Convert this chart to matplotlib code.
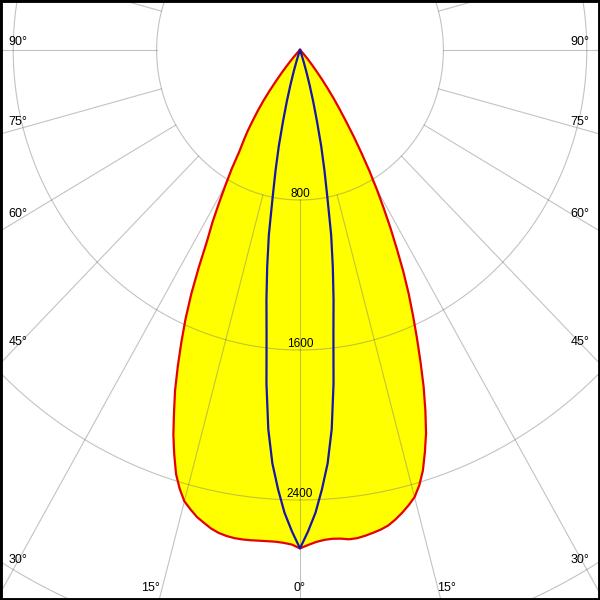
import matplotlib.pyplot as plt
import numpy as np
from matplotlib.patches import Rectangle

# gamma angles (deg) of the intensity readings
gamma = [0, 1, 2, 3, 4, 5, 6, 7, 8, 9, 10, 11, 12, 13, 14, 15, 16, 17, 18, 19,
         20, 21, 22, 23, 24, 25, 26, 27, 28, 29, 30, 31, 32, 33, 34, 35, 36, 37, 38, 39,
         40, 41, 42, 43, 44, 45, 46, 47, 48, 49, 50, 60, 70, 80, 90]
# luminous intensity (cd), C0 plane (right half) / C180 plane (left half)
c0 = [2658, 2640, 2625, 2616, 2613, 2616, 2624, 2623, 2616, 2607,
      2597, 2583, 2560, 2533, 2503, 2469, 2415, 2345, 2255, 2160,
      2045, 1925, 1795, 1670, 1550, 1435, 1315, 1190, 1075, 960,
      855, 750, 645, 550, 460, 385, 320, 258, 200, 150,
      110, 80, 55, 35, 20, 10, 4, 0, 0, 0, 0, 0, 0, 0, 0]
c180 = [2658, 2638, 2630, 2626, 2626, 2627, 2629, 2630, 2629, 2624,
        2615, 2600, 2578, 2556, 2525, 2492, 2435, 2365, 2270, 2170,
        2055, 1945, 1820, 1695, 1570, 1435, 1285, 1140, 1040, 930,
        830, 740, 640, 580, 525, 460, 400, 340, 275, 210,
        160, 115, 80, 55, 35, 22, 12, 5, 0, 0, 0, 0, 0, 0, 0]
# C90 plane (right half) / C270 plane (left half)
c90 = [2658, 2568, 2470, 2345, 2210, 2030, 1790, 1530, 1345, 1170,
       1000, 800, 655, 525, 390, 285, 195, 120, 65, 25, 0] + [0] * 34
c270 = [2658, 2568, 2470, 2345, 2210, 2030, 1790, 1530, 1345, 1170,
        1000, 800, 655, 525, 390, 285, 195, 120, 65, 25, 0] + [0] * 34

ring_values = [800, 1600, 2400, 3200, 4000]
ring_labels = ['800', '1600', '2400']
angle_labels = ['90°', '75°', '60°', '45°', '30°', '15°', '0°',
                '15°', '30°', '45°', '60°', '75°', '90°']
# label positions in pixels (x, y from top-left)
angle_label_px = [(18, 42), (18, 122), (18, 214), (18, 342), (18, 560), (151, 588), (300, 588),
                  (447, 588), (580, 560), (580, 342), (580, 214), (580, 122), (580, 42)]

# geometry of the diagram
W = H = 600
CX, CY = 300, 50            # pole position in pixels
PX_PER_CD = 150 / 800       # vertical scale
X_SQUASH = 0.956            # horizontal scale relative to vertical
R_MAX = 4000

fig = plt.figure(figsize=(6, 6), dpi=100)
fig.patch.set_facecolor('white')

ry = R_MAX * PX_PER_CD
rx = ry * X_SQUASH
ax = fig.add_axes([(CX - rx) / W, (H - CY - ry) / H, 2 * rx / W, 2 * ry / H],
                  projection='polar')
ax.set_theta_zero_location('S')
ax.set_aspect('auto')
ax.set_ylim(0, R_MAX)
ax.grid(False)
ax.set_xticks([])
ax.set_yticks([])
ax.spines['polar'].set_visible(False)
ax.patch.set_visible(False)

g = np.radians(gamma)

# C0-C180 curve, filled
th_red = np.concatenate([-g[::-1], g])
r_red = np.concatenate([np.array(c180)[::-1], c0])
ax.fill(th_red, r_red, color='#ffff00', lw=0, zorder=1)

# grid
grid_kw = dict(color='#7a7a7a', alpha=0.45, lw=0.8, zorder=2)
for a in range(0, 360, 15):
    ax.plot([np.radians(a)] * 2, [ring_values[0], R_MAX], **grid_kw)
full = np.linspace(0, 2 * np.pi, 721)
for rv in ring_values:
    ax.plot(full, np.full_like(full, rv), **grid_kw)

ax.plot(th_red, r_red, color='#e60000', lw=1.6, zorder=3, solid_joinstyle='round')

# C90-C270 curve
th_blue = np.concatenate([-g[::-1], g])
r_blue = np.concatenate([np.array(c270)[::-1], c90])
ax.plot(th_blue, r_blue, color='#1616a8', lw=1.6, zorder=4, solid_joinstyle='round')

for rv, lab in zip(ring_values, ring_labels):
    ax.annotate(lab, (0, rv), xytext=(0, 2), textcoords='offset points',
                ha='center', va='baseline', fontsize=8.5, family='Liberation Sans', zorder=5)

for lab, (px, py) in zip(angle_labels, angle_label_px):
    fig.text(px / W, 1 - py / H, lab, ha='center', va='center',
             fontsize=9, family='Liberation Sans')

fig.patches.append(Rectangle((0, 0), 1, 1, transform=fig.transFigure, fill=False,
                             ec='black', lw=3.5))

fig.savefig('out.png', dpi=100)
